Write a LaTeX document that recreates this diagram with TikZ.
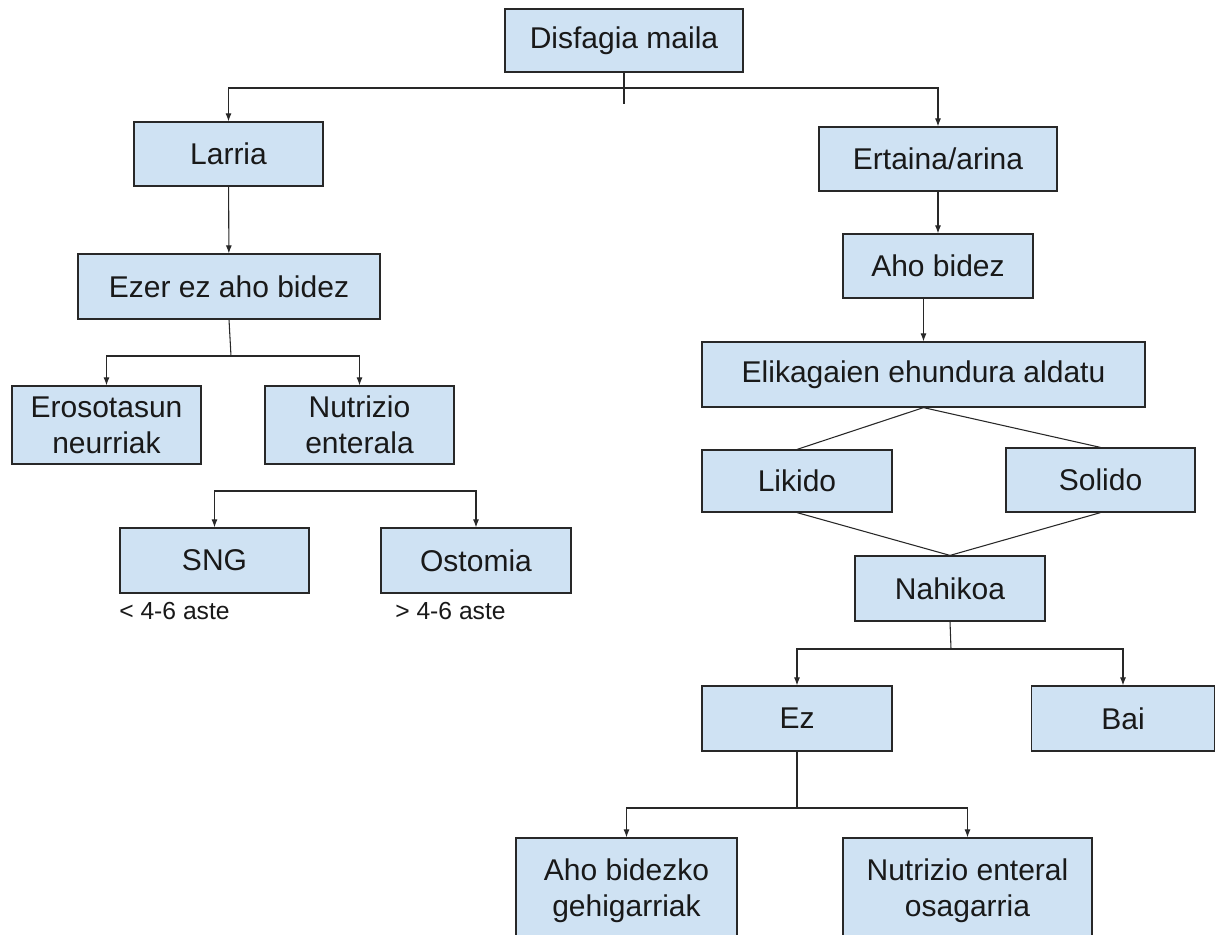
\documentclass[tikz,border=0pt]{standalone}
\usepackage{fontspec}
\setmainfont{Liberation Sans}
\usetikzlibrary{arrows.meta}
\definecolor{boxblue}{RGB}{207,226,243}
\definecolor{inkgray}{RGB}{40,40,40}

\begin{document}
\begin{tikzpicture}[x=0.75pt, y=-0.75pt,
    box/.style 2 args={draw=inkgray, fill=boxblue, line width=0.9pt,
        minimum width=#1*0.75pt, minimum height=#2*0.75pt, inner sep=0pt,
        align=center, text=black!90,
        font=\fontsize{22.5}{27}\selectfont},
    link/.style={draw=inkgray, line width=0.8pt},
    arr/.style={link, -{Latex[length=6pt,width=4.5pt]}},
    note/.style={anchor=west, inner sep=0pt, text=black!90,
        font=\fontsize{18.5}{22}\selectfont}]
% Frame of the page
\clip (0,0) rectangle (1217,935);
\fill[white] (0,0) rectangle (1217,935);

% Top level
\node[box={238}{63}] (dis) at (624,40.5) {Disfagia maila};
\node[box={189}{64}] (lar) at (228.5,154) {Larria};
\node[box={238}{64}] (ert) at (938,159) {Ertaina/arina};

% Left branch
\node[box={302}{65}] (ezer) at (229,286.5) {Ezer ez aho bidez};
\node[box={189}{78}] (ero) at (106.5,425) {Erosotasun\\neurriak};
\node[box={189}{78}] (nut) at (359.5,425) {Nutrizio\\enterala};
\node[box={189}{65}] (sng) at (214.5,560.5) {SNG};
\node[box={190}{65}] (ost) at (476,560.5) {Ostomia};
\node[note] (sngnote) at (119,611) {< 4-6 aste};
\node[note] (ostnote) at (395,611) {> 4-6 aste};

% Right branch
\node[box={190}{64}] (aho) at (938,266) {Aho bidez};
\node[box={443}{65}] (elik) at (923.5,374.5) {Elikagaien ehundura aldatu};
\node[box={190}{62}] (lik) at (797,481) {Likido};
\node[box={189}{64}] (sol) at (1100.5,480) {Solido};
\node[box={190}{65}] (nah) at (950,588.5) {Nahikoa};
\node[box={190}{65}] (ez) at (797,718.5) {Ez};
\node[box={183}{65}] (bai) at (1123,718.5) {Bai};
\node[box={221}{105}] (ahog) at (626.5,890.5) {Aho bidezko\\gehigarriak};
\node[box={249}{105}] (nue) at (967.5,890.5) {Nutrizio enteral\\osagarria};

% Junction points
\coordinate (disj) at (624,88);
\coordinate (ezerj) at (231,356);
\coordinate (nutj) at (345,491);
\coordinate (nahj) at (951,649);
\coordinate (ezj) at (797,808);

% Connectors
\draw[link] (dis.south) -- ++(0,31);
\draw[arr] (disj) -| (lar.north);
\draw[arr] (disj) -| (ert.north);
\draw[arr] (lar) -- (ezer);
\draw[link] (ezer.south) -- (ezerj);
\draw[arr] (ezerj) -| (ero.north);
\draw[arr] (ezerj) -| (nut.north);
\draw[arr] (nutj) -| (sng.north);
\draw[arr] (nutj) -| (ost.north);
\draw[arr] (ert) -- (aho);
\draw[arr] (aho.south -| elik.north) -- (elik.north);
\draw[link] (elik.south) -- (lik.north);
\draw[link] (elik.south) -- (sol.north);
\draw[link] (lik.south) -- (nah.north);
\draw[link] (sol.south) -- (nah.north);
\draw[link] (nah.south) -- (nahj);
\draw[arr] (nahj) -| (ez.north);
\draw[arr] (nahj) -| (bai.north);
\draw[link] (ez.south) -- (ezj);
\draw[arr] (ezj) -| (ahog.north);
\draw[arr] (ezj) -| (nue.north);
\end{tikzpicture}
\end{document}
